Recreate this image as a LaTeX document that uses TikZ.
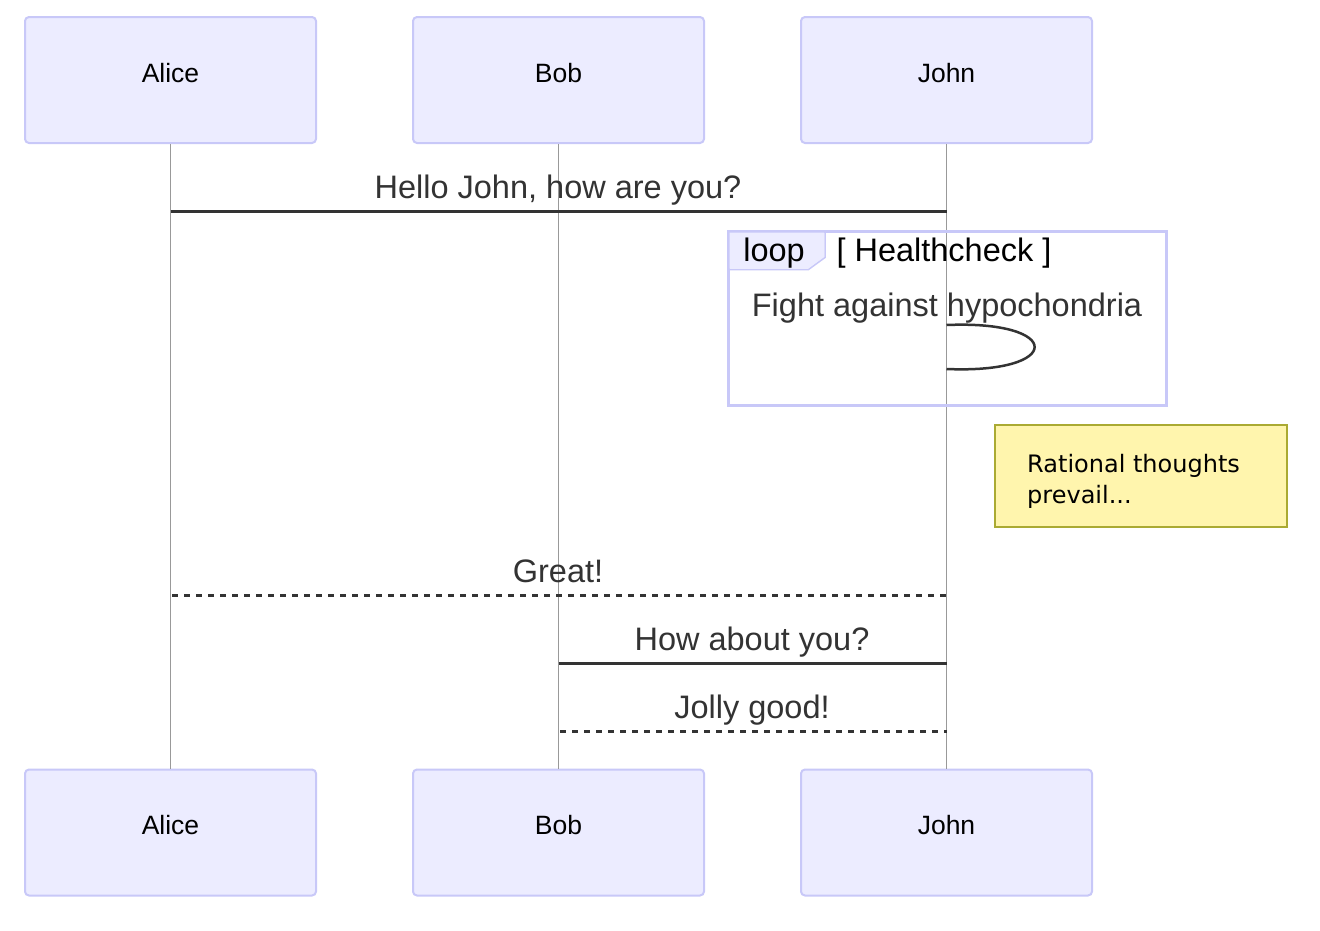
\documentclass[tikz,border=0pt]{standalone}
\usepackage{fontspec}
\setmainfont{Liberation Sans}
\newfontfamily\notefont{DejaVu Sans}
\definecolor{actfill}{HTML}{ECECFF}
\definecolor{actline}{HTML}{C8C8F8}
\definecolor{msgcol}{HTML}{333333}
\definecolor{lifecol}{HTML}{999999}
\definecolor{notefill}{HTML}{FFF5AD}
\definecolor{noteline}{HTML}{AAAA33}
\tikzset{
  actor/.style={draw=actline, fill=actfill, line width=2pt, rounded corners=4pt,
    minimum width=291pt, minimum height=126pt, inner sep=0pt,
    font=\fontsize{26.5}{30}\selectfont, text=black},
  lifeline/.style={draw=lifecol, line width=1pt},
  msgsolid/.style={draw=msgcol, line width=3pt},
  msgdashed/.style={draw=msgcol, line width=3pt, dash pattern=on 5.5pt off 6.5pt},
  msgtext/.style={font=\fontsize{32.5}{36}\selectfont, text=msgcol, anchor=base, inner sep=0pt},
  looptext/.style={font=\fontsize{32.5}{36}\selectfont, text=black, anchor=base, inner sep=0pt},
  notetext/.style={font=\notefont\fontsize{24}{31}\selectfont, text=black, anchor=base west, inner sep=0pt},
}
\begin{document}
\begin{tikzpicture}[x=1pt,y=-1pt]
\useasboundingbox[fill=white] (0,0) rectangle (1320,930);
% actors
\node[actor] (aliceT) at (170.5,80) {};
\node[actor] (bobT) at (558.5,80) {};
\node[actor] (johnT) at (946.5,80) {};
\node[actor] (aliceB) at (170.5,832.5) {};
\node[actor] (bobB) at (558.5,832.5) {};
\node[actor] (johnB) at (946.5,832.5) {};
% lifelines
\draw[lifeline] (aliceT.south) -- (aliceB.north);
\draw[lifeline] (bobT.south) -- (bobB.north);
\draw[lifeline] (johnT.south) -- (johnB.north);
% actor labels
\foreach \n/\t in {aliceT/Alice,bobT/Bob,johnT/John,aliceB/Alice,bobB/Bob,johnB/John}{
  \node[font=\fontsize{26.5}{30}\selectfont, text=black, anchor=base, inner sep=0pt] (\n-lbl) at ([yshift=-2pt]\n.center) {\t};
}
% message coordinates
\coordinate (m1a) at (aliceT.south |- 0,211);
\coordinate (m1b) at (johnT.south |- 0,211);
\coordinate (m2a) at ([xshift=1.5pt]aliceT.south |- 0,595);
\coordinate (m2b) at (johnT.south |- 0,595);
\coordinate (m3a) at (bobT.south |- 0,663);
\coordinate (m3b) at (johnT.south |- 0,663);
\coordinate (m4a) at ([xshift=1.5pt]bobT.south |- 0,731);
\coordinate (m4b) at (johnT.south |- 0,731);
\coordinate (s1) at (johnT.south |- 0,325);
\coordinate (s2) at (johnT.south |- 0,369);
% messages
\draw[msgsolid] (m1a) -- (m1b);
\node[msgtext] (t1) at (558,198) {Hello John, how are you?};
% loop box
\draw[draw=actline, line width=3pt] (728,231) rectangle (1166,405);
\fill[actfill] (729.5,232.5) -- (824,232.5) -- (824,257) -- (808,268.5) -- (729.5,268.5) -- cycle;
\draw[draw=actline, line width=1.5pt] (825,231) -- (825,257.5) -- (808.5,269.5) -- (728,269.5);
\node[looptext] (looplbl) at (774,261) {loop};
\node[looptext] (loopcond) at (944,261) {[ Healthcheck ]};
\node[msgtext] (t2) at (947,316) {Fight against hypochondria};
\draw[msgsolid, line width=2.5pt] (s1) .. controls (1064,320) and (1064,374) .. (s2);
% note
\node[draw=noteline, fill=notefill, line width=1.5pt, minimum width=292pt, minimum height=102pt, inner sep=0pt] (note) at (1141,476) {};
\node[notetext] (n1) at (1027,472) {Rational thoughts};
\node[notetext] (n2) at (1027,503) {prevail...};
% later messages
\draw[msgdashed] (m2a) -- (m2b);
\node[msgtext] (t3) at (558,582) {Great!};
\draw[msgsolid] (m3a) -- (m3b);
\node[msgtext] (t4) at (752,650) {How about you?};
\draw[msgdashed] (m4a) -- (m4b);
\node[msgtext] (t5) at (752,718) {Jolly good!};
\end{tikzpicture}
\end{document}
